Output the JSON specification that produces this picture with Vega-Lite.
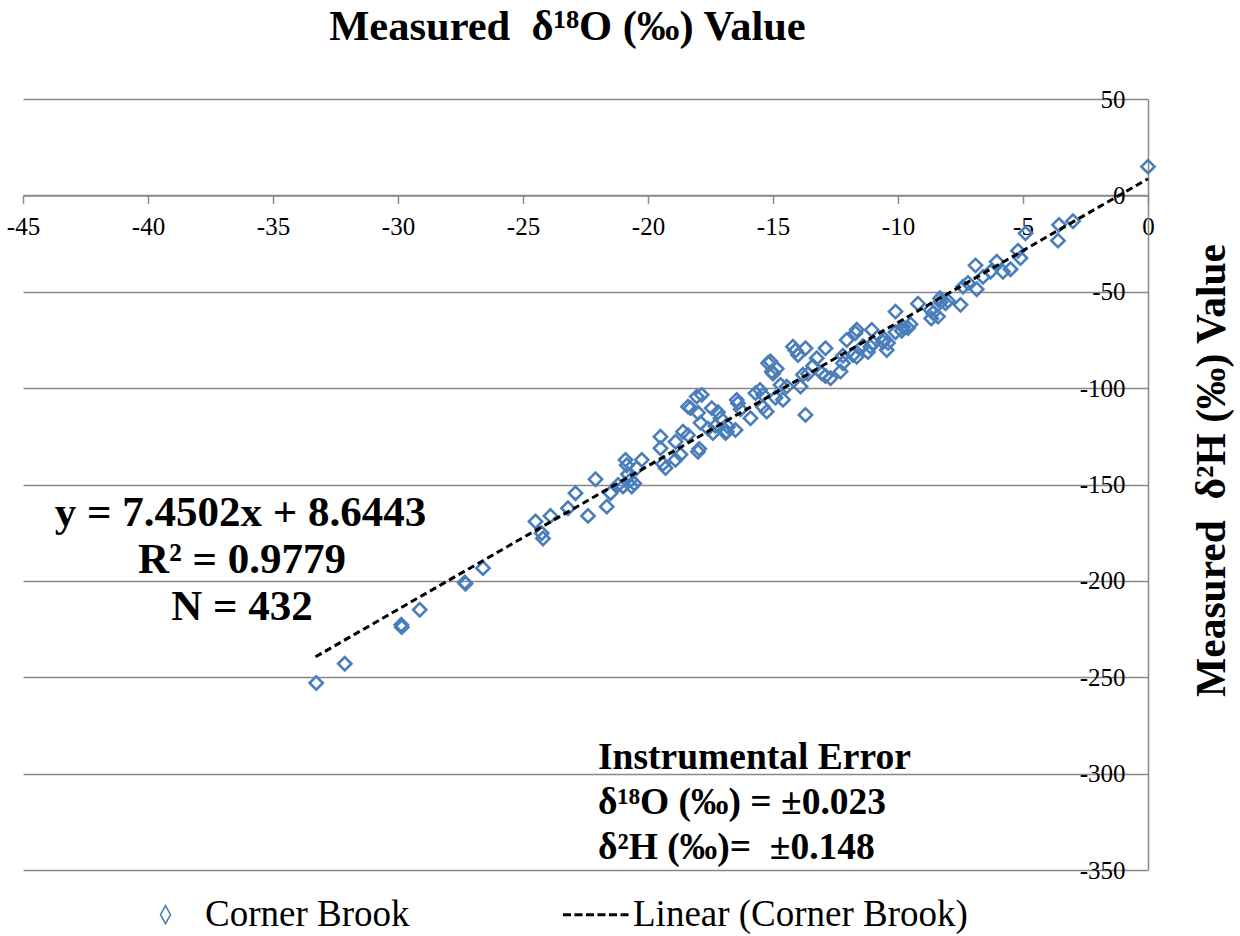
{
  "$schema": "https://vega.github.io/schema/vega-lite/v6.json",
  "width": 1125,
  "height": 771,
  "autosize": {"type": "none"},
  "padding": {"left": 23, "top": 99, "right": 92, "bottom": 66},
  "background": "white",
  "config": {"view": {"stroke": null}, "font": "Liberation Serif"},
  "title": {"text": "Measured \u00a0δ¹⁸O (‰) Value", "font": "Liberation Serif", "fontSize": 42.5, "fontWeight": "bold", "color": "black", "anchor": "middle", "dx": -18, "offset": 39},
  "datasets": {
    "pts": [
      {"x": -33.27, "y": -253}, {"x": -32.13, "y": -243}, {"x": -29.87, "y": -222.8}, {"x": -29.85, "y": -224.0}, {"x": -29.13, "y": -215}, {"x": -27.33, "y": -200.8}, {"x": -27.3, "y": -201.5}, {"x": -26.6, "y": -193.4},
      {"x": -24.5, "y": -169.2}, {"x": -24.25, "y": -175.3}, {"x": -24.2, "y": -178}, {"x": -23.9, "y": -166.3}, {"x": -23.2, "y": -162.3}, {"x": -22.9, "y": -154.5}, {"x": -22.4, "y": -166.3}, {"x": -22.1, "y": -147.3}, {"x": -21.65, "y": -161.5}, {"x": -21.5, "y": -154.5}, {"x": -21.2, "y": -150.2}, {"x": -21.0, "y": -151}, {"x": -20.9, "y": -137.2}, {"x": -20.85, "y": -140}, {"x": -20.8, "y": -144.7}, {"x": -20.7, "y": -147.6}, {"x": -20.65, "y": -151.1}, {"x": -20.55, "y": -149.5}, {"x": -20.45, "y": -141.5}, {"x": -20.25, "y": -137.2},
      {"x": -19.5, "y": -125.2}, {"x": -19.5, "y": -131.2}, {"x": -19.4, "y": -139.3}, {"x": -19.3, "y": -141.5}, {"x": -18.9, "y": -127.8}, {"x": -18.9, "y": -137.2}, {"x": -18.7, "y": -134.5}, {"x": -18.6, "y": -122.6}, {"x": -18.4, "y": -124.4}, {"x": -18.4, "y": -109.6}, {"x": -18.3, "y": -110.4}, {"x": -18.05, "y": -104.4}, {"x": -18.0, "y": -112.8}, {"x": -17.9, "y": -118}, {"x": -18.0, "y": -133}, {"x": -17.95, "y": -131.5}, {"x": -17.85, "y": -103.5}, {"x": -17.6, "y": -121}, {"x": -17.45, "y": -110.4}, {"x": -17.4, "y": -123.3}, {"x": -17.3, "y": -119.6}, {"x": -17.2, "y": -112.5}, {"x": -17.1, "y": -115.6}, {"x": -16.9, "y": -123.3}, {"x": -16.85, "y": -122.6}, {"x": -16.8, "y": -120}, {"x": -16.5, "y": -121.7}, {"x": -16.45, "y": -106.1}, {"x": -16.4, "y": -107.8}, {"x": -16.3, "y": -111}, {"x": -15.9, "y": -115.6}, {"x": -15.7, "y": -102.6}, {"x": -15.52, "y": -100.9}, {"x": -15.4, "y": -109.8}, {"x": -15.4, "y": -103.5}, {"x": -15.25, "y": -112.2}, {"x": -15.2, "y": -87}, {"x": -15.1, "y": -86.2}, {"x": -15.05, "y": -91.4}, {"x": -15.0, "y": -92.5}, {"x": -14.85, "y": -90}, {"x": -14.9, "y": -105}, {"x": -14.7, "y": -98.3}, {"x": -14.6, "y": -106}, {"x": -14.45, "y": -99.2}, {"x": -14.2, "y": -78.5}, {"x": -14.0, "y": -82.8}, {"x": -14.1, "y": -80.5}, {"x": -13.9, "y": -99.2}, {"x": -13.8, "y": -93}, {"x": -13.7, "y": -113.9}, {"x": -13.7, "y": -79.3}, {"x": -13.6, "y": -92.6}, {"x": -13.4, "y": -88.5}, {"x": -13.25, "y": -84.5}, {"x": -13.05, "y": -92.3}, {"x": -12.9, "y": -79.3}, {"x": -12.9, "y": -93.7}, {"x": -12.7, "y": -94.9}, {"x": -12.3, "y": -91.4}, {"x": -12.2, "y": -87.1}, {"x": -12.2, "y": -83.2}, {"x": -12.05, "y": -75}, {"x": -11.8, "y": -82.8}, {"x": -11.7, "y": -71.4}, {"x": -11.65, "y": -69.7}, {"x": -11.65, "y": -83.7}, {"x": -11.4, "y": -78.1}, {"x": -11.2, "y": -81.3}, {"x": -11.1, "y": -78.5}, {"x": -11.05, "y": -69.8}, {"x": -11.0, "y": -76.6}, {"x": -10.6, "y": -76.1}, {"x": -10.55, "y": -74.5}, {"x": -10.45, "y": -80.2}, {"x": -10.4, "y": -76.6}, {"x": -10.1, "y": -60.3}, {"x": -10.1, "y": -71}, {"x": -9.85, "y": -70.2}, {"x": -9.8, "y": -68.3}, {"x": -9.6, "y": -68.8}, {"x": -9.5, "y": -66.8}, {"x": -9.2, "y": -56.2}, {"x": -8.7, "y": -59.4}, {"x": -8.67, "y": -63.9}, {"x": -8.6, "y": -61}, {"x": -8.4, "y": -62.9}, {"x": -8.32, "y": -53.4}, {"x": -8.3, "y": -55.3}, {"x": -8.1, "y": -56}, {"x": -8.0, "y": -54.8}, {"x": -7.5, "y": -56.8}, {"x": -7.4, "y": -47.4}, {"x": -7.2, "y": -45.4}, {"x": -6.9, "y": -36.3}, {"x": -6.85, "y": -48.7}, {"x": -6.6, "y": -42.3}, {"x": -6.3, "y": -39.6}, {"x": -6.05, "y": -34.4}, {"x": -5.8, "y": -39.6}, {"x": -5.5, "y": -38.3}, {"x": -5.2, "y": -28.7}, {"x": -5.1, "y": -32.5}, {"x": -4.9, "y": -19.7}, {"x": -3.6, "y": -23.5}, {"x": -3.56, "y": -15.3}, {"x": -3.0, "y": -13.4}, {"x": 0, "y": 14.9}
    ],
    "trend": [{"x": -33.3, "y": -239.4}, {"x": 0, "y": 8.6}],
    "eq": [
      {"x": -36.3, "y": -164.7, "label": "y = 7.4502x + 8.6443"},
      {"x": -36.24, "y": -189.1, "label": "R² = 0.9779"},
      {"x": -36.24, "y": -213.5, "label": "N = 432"}
    ],
    "err": [
      {"x": -22.0, "y": -291.8, "label": "Instrumental Error"},
      {"x": -22.0, "y": -315.1, "label": "δ¹⁸O (‰) = ±0.023"},
      {"x": -22.0, "y": -338.5, "label": "δ²H (‰)= \u00a0±0.148"}
    ],
    "legSym": [{"x": -39.3, "y": -373.2}],
    "legLine": [{"x": -23.4, "y": -373.2}, {"x": -20.72, "y": -373.2}],
    "legText": [
      {"x": -37.72, "y": -373.2, "label": "Corner Brook"},
      {"x": -20.6, "y": -373.2, "label": "Linear (Corner Brook)"}
    ]
  },
  "layer": [
    {
      "data": {"name": "pts"},
      "mark": {"type": "point", "shape": "diamond", "filled": false, "size": 175, "strokeWidth": 2.6, "opacity": 1, "color": "#4a7ebb"},
      "encoding": {
        "x": {"field": "x", "type": "quantitative", "scale": {"domain": [-45, 0], "nice": false, "zero": false},
          "axis": {"orient": "bottom", "offset": -674.6, "values": [-45, -40, -35, -30, -25, -20, -15, -10, -5, 0], "grid": false, "title": null,
            "domainColor": "#898989", "domainWidth": 1.5, "tickColor": "#898989", "tickWidth": 1.5, "tickSize": 8,
            "labelExpr": "replace(datum.label, '−', '-')",
            "labelFont": "Liberation Serif", "labelFontSize": 25, "labelColor": "black", "labelPadding": 11, "labelFlush": false}},
        "y": {"field": "y", "type": "quantitative", "scale": {"domain": [-350, 50], "nice": false, "zero": false},
          "axis": {"orient": "right", "values": [-350, -300, -250, -200, -150, -100, -50, 0, 50], "grid": true, "gridColor": "#898989", "gridWidth": 1.5,
            "domainColor": "#898989", "domainWidth": 1.5, "ticks": false, "tickSize": 0,
            "labelExpr": "replace(datum.label, '−', '-')",
            "labelFont": "Liberation Serif", "labelFontSize": 25, "labelColor": "black", "labelAlign": "right", "labelBaseline": "middle", "labelPadding": -23, "labelFlush": false,
            "title": "Measured \u00a0δ²H (‰) Value", "titleFont": "Liberation Serif", "titleFontSize": 41.5, "titleFontWeight": "bold", "titleColor": "black",
            "titleAngle": 270, "titleX": 64, "titleY": 371, "titleBaseline": "middle", "titleAlign": "center"}}
      }
    },
    {
      "data": {"name": "trend"},
      "mark": {"type": "line", "color": "black", "strokeDash": [7, 4], "strokeWidth": 3},
      "encoding": {"x": {"field": "x", "type": "quantitative"}, "y": {"field": "y", "type": "quantitative"}}
    },
    {
      "data": {"name": "eq"},
      "mark": {"type": "text", "font": "Liberation Serif", "fontSize": 43, "fontWeight": "bold", "color": "black", "align": "center", "baseline": "middle"},
      "encoding": {"x": {"field": "x", "type": "quantitative"}, "y": {"field": "y", "type": "quantitative"}, "text": {"field": "label"}}
    },
    {
      "data": {"name": "err"},
      "mark": {"type": "text", "font": "Liberation Serif", "fontSize": 37.5, "fontWeight": "bold", "color": "black", "align": "left", "baseline": "middle"},
      "encoding": {"x": {"field": "x", "type": "quantitative"}, "y": {"field": "y", "type": "quantitative"}, "text": {"field": "label"}}
    },
    {
      "data": {"name": "legSym"},
      "mark": {"type": "point", "shape": "M0,-0.9L0.5,0L0,0.9L-0.5,0Z", "filled": false, "size": 400, "strokeWidth": 1.6, "color": "#4a7ebb", "opacity": 1},
      "encoding": {"x": {"field": "x", "type": "quantitative"}, "y": {"field": "y", "type": "quantitative"}}
    },
    {
      "data": {"name": "legLine"},
      "mark": {"type": "line", "color": "black", "strokeDash": [8, 3.5], "strokeWidth": 3},
      "encoding": {"x": {"field": "x", "type": "quantitative"}, "y": {"field": "y", "type": "quantitative"}}
    },
    {
      "data": {"name": "legText"},
      "mark": {"type": "text", "font": "Liberation Serif", "fontSize": 37, "color": "black", "align": "left", "baseline": "middle"},
      "encoding": {"x": {"field": "x", "type": "quantitative"}, "y": {"field": "y", "type": "quantitative"}, "text": {"field": "label"}}
    }
  ]
}
